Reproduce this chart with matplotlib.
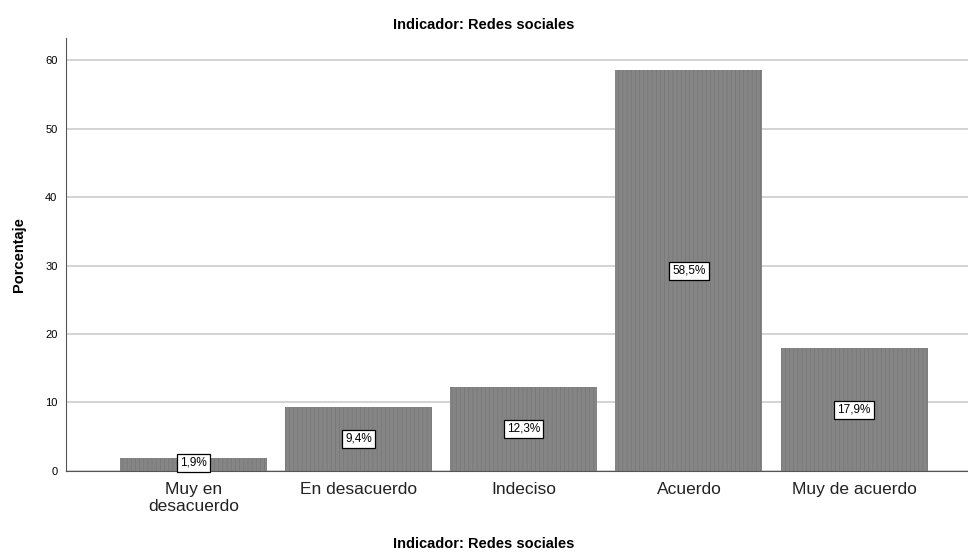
import matplotlib.pyplot as plt

plt.rcParams['font.family'] = ['Liberation Sans', 'DejaVu Sans']
plt.rcParams['hatch.linewidth'] = 0.5

categorias = ['Muy en\ndesacuerdo', 'En desacuerdo', 'Indeciso', 'Acuerdo', 'Muy de acuerdo']
porcentajes = [1.9, 9.4, 12.3, 58.5, 17.9]
etiquetas = ['1,9%', '9,4%', '12,3%', '58,5%', '17,9%']
y_ticks = [0, 10, 20, 30, 40, 50, 60]

fig = plt.figure(figsize=(9.68, 5.54), dpi=100)
ax = fig.add_axes([0.068, 0.15, 0.932, 0.781])

x = list(range(len(categorias)))
ax.bar(x, porcentajes, width=0.89, color='#858585', edgecolor='#767676',
       hatch='||||', linewidth=0, zorder=2)

# etiquetas en el centro de cada barra
for xi, v, txt in zip(x, porcentajes, etiquetas):
    ax.text(xi, max(v / 2, 1.2), txt, ha='center', va='center', fontsize=8.5, zorder=3,
            bbox=dict(boxstyle='square,pad=0.25', facecolor='white', edgecolor='black', linewidth=0.9))

ax.set_xlim(-0.773, 4.69)
ax.set_ylim(0, 63.2)
ax.set_yticks(y_ticks)
ax.set_yticklabels([str(t) for t in y_ticks], fontsize=8)
ax.set_xticks(x)
ax.set_xticklabels(categorias, fontsize=12.5, linespacing=1.2, color='#222222')
ax.tick_params(length=0, pad=6)
ax.tick_params(axis='x', pad=8)

ax.yaxis.grid(True, color='#cccccc', linewidth=1.2, zorder=0)
ax.set_axisbelow(True)
for s in ['top', 'right']:
    ax.spines[s].set_visible(False)
ax.spines['left'].set_color('#555555')
ax.spines['bottom'].set_color('#555555')

ax.set_ylabel('Porcentaje', fontsize=10.5, fontweight='bold', labelpad=14)
fig.text(0.5, 0.006, 'Indicador: Redes sociales', ha='center', va='bottom', fontsize=10.5, fontweight='bold')
fig.text(0.5, 0.955, 'Indicador: Redes sociales', ha='center', va='center', fontsize=10.5, fontweight='bold')

fig.savefig('out.png', dpi=100)
